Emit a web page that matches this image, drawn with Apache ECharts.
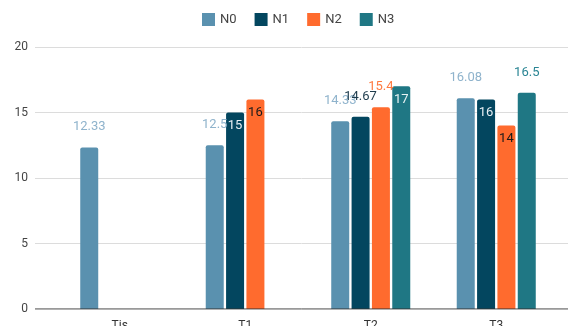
<!DOCTYPE html>
<html>
<head>
<meta charset="utf-8">
<script src="https://cdn.jsdelivr.net/npm/echarts@6/dist/echarts.min.js"></script>
<style>
  html, body { margin: 0; padding: 0; background: #fff; }
  #chart { width: 568px; height: 326px; }
</style>
</head>
<body>
<div id="chart"></div>
<script>
// Categories and series values
const categories = ['Tis', 'T1', 'T2', 'T3'];
const seriesNames = ['N0', 'N1', 'N2', 'N3'];
const valuesN0 = [12.33, 12.5, 14.33, 16.08];
const valuesN1 = [null, 15, 14.67, 16];
const valuesN2 = [null, 16, 15.4, 14];
const valuesN3 = [null, null, 17, 16.5];
const yTicks = [0, 5, 10, 15, 20];

// Label placement per point: 'top' = above the bar, 'in' = inside near the top
const labelPlaceN0 = ['top', 'top', 'top', 'top'];
const labelPlaceN1 = [null, 'in', 'top', 'in'];
const labelPlaceN2 = [null, 'in', 'top', 'in'];
const labelPlaceN3 = [null, null, 'in', 'top'];

const colors = ['#5a91af', '#03465f', '#ff6b2e', '#1f7784'];
const topLabelColors = ['#8fb3cc', '#1d3b4c', '#ff7a40', '#2a8594'];
const inLabelColors = ['#ffffff', '#e6eef3', '#1a1a1a', '#e6f2f3'];

function buildData(values, places, idx) {
  return values.map((v, i) => {
    if (v === null) return null;
    const inside = places[i] === 'in';
    return {
      value: v,
      label: inside
        ? { position: 'insideTop', distance: 7, color: inLabelColors[idx] }
        : { position: 'top', distance: 14, color: topLabelColors[idx] }
    };
  });
}

const allValues = [valuesN0, valuesN1, valuesN2, valuesN3];
const allPlaces = [labelPlaceN0, labelPlaceN1, labelPlaceN2, labelPlaceN3];

const chart = echarts.init(document.getElementById('chart'), null, { renderer: 'canvas' });

const series = seriesNames.map((name, idx) => ({
  name: name,
  type: 'bar',
  xAxisIndex: 1,
  yAxisIndex: 1,
  barWidth: 18,
  barGap: '13%',
  itemStyle: { color: colors[idx], borderRadius: [2, 2, 0, 0] },
  label: {
    show: true,
    fontFamily: 'Roboto',
    fontSize: 13,
    formatter: p => String(p.value)
  },
  data: buildData(allValues[idx], allPlaces[idx], idx)
}));

chart.setOption({
  animation: false,
  color: colors,
  textStyle: { fontFamily: 'Roboto' },
  legend: {
    top: 8,
    left: 197,
    itemWidth: 13,
    itemHeight: 13,
    itemGap: 18,
    icon: 'rect',
    textStyle: { color: '#444', fontSize: 13, fontFamily: 'Roboto' },
    data: seriesNames
  },
  grid: [
    { left: 35, right: 0, top: 47, bottom: 17, containLabel: false, outerBoundsMode: 'none' },
    { left: 57, right: 9, top: 47, bottom: 17, containLabel: false, outerBoundsMode: 'none' }
  ],
  xAxis: [
    {
      gridIndex: 0,
      type: 'value',
      min: 0, max: 1,
      axisLine: { show: false },
      axisTick: { show: false },
      axisLabel: { show: false },
      splitLine: { show: false }
    },
    {
      gridIndex: 1,
      type: 'category',
      data: categories,
      axisLine: { show: false },
      axisTick: { show: false },
      axisLabel: { color: '#333', fontSize: 12, margin: 11, fontFamily: 'Roboto' }
    }
  ],
  yAxis: [
    {
      gridIndex: 0,
      type: 'value',
      min: yTicks[0],
      max: yTicks[yTicks.length - 1],
      interval: 5,
      axisLine: { show: false },
      axisTick: { show: false },
      axisLabel: { color: '#444', fontSize: 12, margin: 7, fontFamily: 'Roboto' },
      splitLine: { lineStyle: { color: '#dcdcdc', width: 1 } }
    },
    {
      gridIndex: 1,
      type: 'value',
      min: yTicks[0],
      max: yTicks[yTicks.length - 1],
      interval: 5,
      axisLine: { show: false },
      axisTick: { show: false },
      axisLabel: { show: false },
      splitLine: { show: false }
    }
  ],
  series: series.concat([{
    // baseline along the bottom of the plot area
    type: 'line',
    xAxisIndex: 0,
    yAxisIndex: 0,
    symbol: 'none',
    silent: true,
    z: 5,
    lineStyle: { color: '#333', width: 1 },
    data: [[0, 0], [1, 0]]
  }])
});
</script>
</body>
</html>
